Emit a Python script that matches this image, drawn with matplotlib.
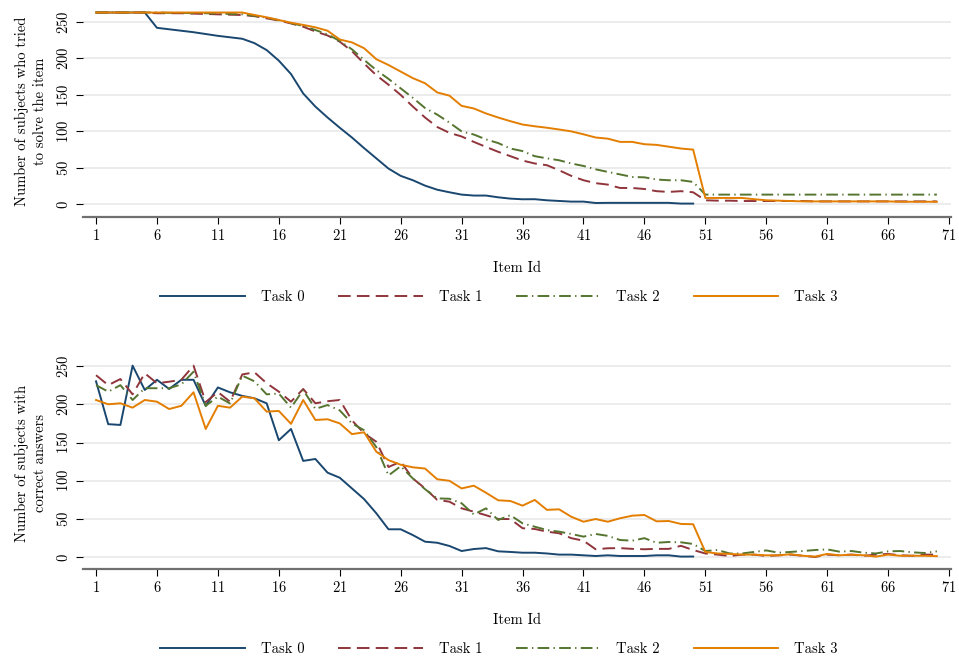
import matplotlib
matplotlib.use("Agg")
import matplotlib.pyplot as plt
from matplotlib.lines import Line2D

plt.rcParams["font.family"] = ["cmr10", "DejaVu Serif"]
plt.rcParams["axes.formatter.use_mathtext"] = True
plt.rcParams["mathtext.fontset"] = "cm"

items = list(range(1, 71))
items_t0 = list(range(1, 51))

# number of subjects who tried each item
tried_t0 = [263, 263, 263, 263, 263, 242, 240, 238, 236, 233.5,
            231, 229, 227, 221, 211.5, 197, 178.6, 152, 134, 119,
            105, 91.6, 77, 63, 49, 39, 33, 25.6, 20, 16.5,
            13.3, 12, 12, 9.6, 7.8, 6.9, 7, 5.5, 4.6, 3.7,
            3.7, 1.8, 2, 2, 2, 2, 2, 2, 1, 1]
tried_t1 = [263, 263, 263, 263, 263, 262, 262, 262, 261.5, 261,
            260.5, 260, 259.6, 258, 255, 252, 248, 243.5, 237, 231.5,
            223, 210, 193, 177, 164, 150, 134, 119, 106, 98,
            93, 85.6, 78.7, 72, 66, 60, 56, 53.6, 46.7, 39,
            33, 29, 27, 22.4, 22.4, 21, 18, 17, 18, 16.5,
            5.5, 5, 5, 4.5, 4.5, 4.5, 4.5, 4.5, 4.5, 4,
            4, 4, 4, 4, 4, 4, 4, 4, 4, 4]
tried_t2 = [263, 263, 263, 263, 263, 263, 262.5, 262.5, 262, 262,
            261.5, 261, 260.5, 258.5, 256, 252.5, 248.5, 244.5, 239, 233,
            224, 212.5, 198, 184, 172, 159, 146, 132, 123, 112,
            100, 95.7, 89, 84, 76.5, 73, 66, 63, 60.4, 56,
            52.6, 48, 44.4, 41, 37.5, 37, 34, 33, 33, 30.7,
            13.3, 13.3, 13.3, 13.3, 13.3, 13.3, 13.3, 13.3, 13.3, 13.3,
            13.3, 13.3, 13.3, 13.3, 13.3, 13.3, 13.3, 13.3, 13.3, 13.3]
tried_t3 = [263, 263, 263, 263, 263, 263, 263, 263, 263, 263,
            263, 263, 263, 259.6, 256.5, 252.7, 249, 246, 242.7, 238,
            226, 222, 214, 199, 191, 182, 173, 166, 153.4, 149,
            135, 131.4, 124.6, 119, 114, 109.4, 107, 105, 102.6, 100,
            96, 91.6, 90, 85.6, 85.6, 82.4, 81.5, 79, 76.5, 75,
            8.7, 8.7, 8.7, 8.7, 7, 5.5, 5, 4.5, 4, 4,
            4, 4, 4, 4, 4, 4, 3.5, 3.5, 3.5, 3.5]

# number of subjects with correct answers
correct_t0 = [230, 174, 173, 250.5, 218.7, 232, 220, 232, 232, 198,
              222, 215.6, 211, 207.8, 201.3, 153, 167.7, 126, 128.5, 110.6,
              104, 90, 76, 57.5, 36.6, 36.6, 29, 20.4, 19, 14.8,
              8.2, 10.8, 12, 7.8, 7, 6, 6, 5, 3.5, 3.5,
              2.6, 1.7, 2.6, 1.7, 1.7, 1.7, 2.6, 2.6, 0.9, 1]
correct_t1 = [238, 225, 233, 213, 240.5, 227.5, 229.5, 232, 250.5, 203,
              216, 203.4, 239, 241.8, 227.5, 216.5, 203.4, 220, 201.3, 204,
              205.6, 179, 162, 151, 118, 125, 103, 90, 75, 72.7,
              64, 59.6, 55, 50, 50, 38, 37, 33.5, 31.4, 25,
              21.7, 10.5, 11.8, 12, 11, 10.5, 11, 11, 15, 9.5,
              5, 3.5, 1.7, 3.5, 3.5, 1.7, 2.6, 3.5, 2, 0.4,
              3.5, 2.6, 3.5, 2, 3.5, 4.4, 2.6, 2, 3.5, 3.5]
correct_t2 = [225, 216.5, 225, 205.6, 221, 221, 221, 226, 242.6, 198,
              210, 201, 237.4, 230, 213, 214, 195.6, 218.7, 194, 199,
              192, 175, 166, 144, 107, 119, 103, 89, 77, 76.5,
              70.6, 56, 64, 48.8, 55, 44.4, 40, 35.7, 33.5, 30.5,
              27, 30.5, 28, 22.6, 21.7, 25, 19, 20, 19.6, 17.4,
              8.2, 9.5, 5, 5, 7, 9, 6, 7, 8.2, 9.5,
              10.3, 7.4, 8.2, 6, 5, 7.8, 8.2, 6.5, 5.6, 7.8]
correct_t3 = [205.6, 200, 201.3, 195.6, 205.6, 203.4, 193.8, 198, 215.7, 167.7,
              198, 195.6, 210, 207.8, 190.4, 191.3, 174.4, 205.6, 179.5, 180.4,
              175, 161, 163.4, 138, 127, 121, 117.6, 116, 102, 100,
              90, 93.6, 84.4, 74.5, 73.6, 67.5, 75, 62, 62.7, 53,
              46.5, 50, 46.5, 51, 54.4, 55.3, 47, 47.4, 43.6, 43.2,
              7, 5, 4.4, 3.5, 3.5, 2.6, 2.6, 4, 2, 0.9,
              4.4, 2.6, 3.5, 2.6, 0.9, 3.5, 2, 2, 2, 1.5]

labels = ["Task 0", "Task 1", "Task 2", "Task 3"]
colors = ["#1a476f", "#90353b", "#55752f", "#e37e00"]
dashes = [None, (6.5, 3.2), (6, 2.2, 0.7, 2.2), None]
lw = 1.4

fig = plt.figure(figsize=(9.59, 6.59), dpi=100)
ax1 = fig.add_axes([83 / 959, 1 - 217 / 659, 868 / 959, 212 / 659])
ax2 = fig.add_axes([83 / 959, 1 - 569 / 659, 868 / 959, 212 / 659])


def draw_panel(ax, series, xs_list, ylabel, ylim, legend_y):
    for ys, xs, c, d, lab in zip(series, xs_list, colors, dashes, labels):
        line, = ax.plot(xs, ys, color=c, lw=lw, label=lab)
        if d is not None:
            line.set_dashes(d)
    ax.set_xlim(-0.07, 71.16)
    ax.set_ylim(*ylim)
    ax.set_xticks(range(1, 72, 5))
    ax.set_yticks(range(0, 251, 50))
    ax.grid(axis="y", color="#eaeaea", lw=1.3)
    ax.set_axisbelow(True)
    for s in ["top", "right", "left"]:
        ax.spines[s].set_visible(False)
    ax.spines["bottom"].set_color("#707070")
    ax.spines["bottom"].set_linewidth(1.6)
    ax.tick_params(axis="x", length=5, width=0.8, color="black", labelsize=10.5, pad=3)
    ax.tick_params(axis="y", length=5, width=0.8, color="black", labelsize=10.5, pad=4)
    for t in ax.get_yticklabels():
        t.set_rotation(90)
        t.set_va("center")
    ax.set_xlabel("Item Id", fontsize=10.5, labelpad=13)
    ax.set_ylabel(ylabel, fontsize=10.5, labelpad=6, linespacing=1.45)
    handles = []
    for c, d, lab in zip(colors, dashes, labels):
        h = Line2D([], [], color=c, lw=lw)
        if d is not None:
            h.set_dashes(d)
        handles.append(h)
    fig.legend(handles=handles, labels=labels, loc="center",
               bbox_to_anchor=(499 / 959, 1 - legend_y / 659), ncol=4,
               frameon=False, fontsize=10.5, handlelength=5.8,
               handletextpad=1.1, columnspacing=2.3)


draw_panel(ax1, [tried_t0, tried_t1, tried_t2, tried_t3],
           [items_t0, items, items, items],
           "Number of subjects who tried\nto solve the item", (-17.4, 273.3), 297)
draw_panel(ax2, [correct_t0, correct_t1, correct_t2, correct_t3],
           [items_t0, items, items, items],
           "Number of subjects with\ncorrect answers", (-15.3, 261.8), 649)

fig.savefig("out.png", dpi=100)
